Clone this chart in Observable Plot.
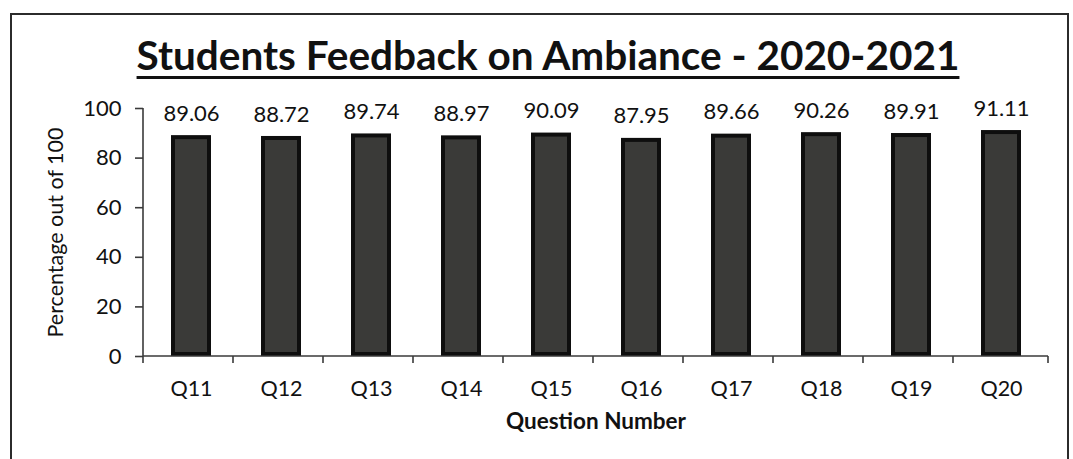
<!DOCTYPE html>
<html><head><meta charset="utf-8">
<script src="https://cdn.jsdelivr.net/npm/d3@7"></script>
<script src="https://cdn.jsdelivr.net/npm/@observablehq/plot@0.6"></script>
<style>
html,body{margin:0;padding:0;background:#fff;}
#page{position:relative;width:1073px;height:459px;overflow:hidden;font-family:Lato,sans-serif;}
#border{position:absolute;left:10px;top:13px;width:1059px;height:470px;border:2px solid #2b2b2b;box-sizing:border-box;}
#title{position:absolute;top:32px;left:0;width:1096px;text-align:center;font-weight:bold;font-size:40.5px;color:#111;line-height:46px;}
#title span{text-decoration:underline;text-decoration-thickness:3px;text-underline-offset:6px;}
#chart{position:absolute;left:0;top:90px;}
</style></head>
<body><div id="page"><div id="border"></div><div id="title"><span id="tt"></span></div><div id="chart"></div></div>
<script>
const titleText = "Students Feedback on Ambiance - 2020-2021";
const questions = ["Q11","Q12","Q13","Q14","Q15","Q16","Q17","Q18","Q19","Q20"];
const values = [89.06, 88.72, 89.74, 88.97, 90.09, 87.95, 89.66, 90.26, 89.91, 91.11];
const yTicks = [0, 20, 40, 60, 80, 100];
const xLabel = "Question Number";
const yLabel = "Percentage out of 100";

document.getElementById("tt").textContent = titleText;
const data = questions.map((q, i) => ({q, v: values[i]}));

function axisLines(index, scales, vals, dims) {
  const x = scales.x, y = scales.y;
  const x0 = dims.marginLeft, x1 = dims.width - dims.marginRight;
  const yb = y(0), yt = y(100);
  const g = d3.create("svg:g").attr("stroke", "#3a3a3a").attr("stroke-width", 1.6).attr("fill", "none");
  g.append("line").attr("x1", x0).attr("x2", x0).attr("y1", yt).attr("y2", yb);
  g.append("line").attr("x1", x0).attr("x2", x1).attr("y1", yb).attr("y2", yb);
  const off = x(questions[0]) - x0;
  const bounds = questions.map(q => x(q) - off).concat([x1]);
  for (const b of bounds) g.append("line").attr("x1", b).attr("x2", b).attr("y1", yb).attr("y2", yb + 7);
  return g.node();
}

const chart = Plot.plot({
  width: 1073,
  height: 369,
  marginLeft: 143,
  marginRight: 25,
  marginTop: 18,
  marginBottom: 103,
  style: {fontFamily: "Lato, sans-serif", color: "#111", background: "transparent", overflow: "visible"},
  x: {domain: questions, paddingInner: 0.56, paddingOuter: 0.28, label: null},
  y: {domain: [0, 100], label: null},
  marks: [
    Plot.barY(data, {x: "q", y: "v", fill: "#3a3a38", stroke: "#0e0e0e", strokeWidth: 4, inset: 2}),
    axisLines,
    Plot.axisY({ticks: yTicks, tickSize: 8, tickPadding: 14, fontSize: 22, label: null, stroke: "#3a3a3a", strokeWidth: 1.6}),
    Plot.axisX({tickSize: 0, tickPadding: 24, fontSize: 21.5, label: null}),
    Plot.text(data, {x: "q", y: "v", text: d => d.v.toFixed(2), dy: -22, fontSize: 22, fill: "#111"}),
    Plot.text([xLabel], {frameAnchor: "bottom", dy: 72, fontSize: 22.5, fontWeight: "bold", fill: "#111"}),
    Plot.text([yLabel], {frameAnchor: "left", textAnchor: "middle", dx: -87, rotate: -90, fontSize: 21.5, fill: "#111"})
  ]
});
document.getElementById("chart").appendChild(chart);
</script>
</body></html>
